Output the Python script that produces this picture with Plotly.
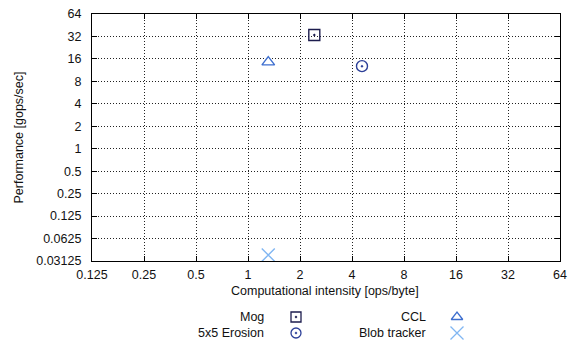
import plotly.graph_objects as go

# Benchmark kernels on a roofline-style log-log plot
names = ["Mog", "5x5 Erosion", "CCL", "Blob tracker"]
intensity = [2.42, 4.57, 1.31, 1.31]          # ops/byte
performance = [33.5, 12.8, 14.5, 0.0376]      # gops/sec
symbols = ["square-open-dot", "circle-open-dot", "triangle-up-open", "x-thin-open"]
colors = ["#1c1c4e", "#2c3f98", "#3e6fcf", "#80b6f2"]

x_ticks = [0.125, 0.25, 0.5, 1, 2, 4, 8, 16, 32, 64]
x_tick_labels = ["0.125", "0.25", "0.5", "1", "2", "4", "8", "16", "32", "64"]
y_ticks = [0.03125, 0.0625, 0.125, 0.25, 0.5, 1, 2, 4, 8, 16, 32, 64]
y_tick_labels = ["0.03125", "0.0625", "0.125", "0.25", "0.5", "1", "2", "4", "8", "16", "32", "64"]
x_title = "Computational intensity [ops/byte]"
y_title = "Performance [gops/sec]"

W, H = 577, 345
PLOT_L, PLOT_R, PLOT_T, PLOT_B = 92, 560, 14, 261
FONT = dict(family="Liberation Sans, Arial, sans-serif", size=12.5, color="#111111")

fig = go.Figure()

for n, xi, yi, s, c in zip(names, intensity, performance, symbols, colors):
    fig.add_trace(go.Scatter(
        x=[xi], y=[yi], mode="markers", name=n, showlegend=False,
        marker=dict(symbol=s, size=11 if "x" not in s else 13, color=c,
                    line=dict(color=c, width=1.4)),
        xaxis="x", yaxis="y"))

# Hand-built two-column key below the plot (text right-aligned, symbol to its right)
key_text_x = [266, 266, 428, 428]
key_sym_x = [296, 296, 457, 457]
key_y = [317, 333, 317, 333]
for n, s, c, tx, sx, ky in zip(names, symbols, colors, key_text_x, key_sym_x, key_y):
    fig.add_trace(go.Scatter(
        x=[sx], y=[ky], mode="markers", showlegend=False, hoverinfo="skip",
        marker=dict(symbol=s, size=10 if "x" not in s else 13, color=c,
                    line=dict(color=c, width=1.3)),
        xaxis="x2", yaxis="y2"))
    fig.add_annotation(x=tx / W, y=1 - ky / H, xref="paper", yref="paper",
                       text=n, showarrow=False, xanchor="right", yanchor="middle",
                       font=FONT)

# Axis titles
fig.add_annotation(x=325 / W, y=1 - 291 / H, xref="paper", yref="paper",
                   text=x_title, showarrow=False, xanchor="center", yanchor="middle",
                   font=FONT)
fig.add_annotation(x=18 / W, y=1 - 137.5 / H, xref="paper", yref="paper",
                   text=y_title, showarrow=False, xanchor="center", yanchor="middle",
                   textangle=-90, font=FONT)

axis_common = dict(
    type="log", showline=True, linecolor="#000000", linewidth=1.2, mirror="ticks",
    ticks="inside", ticklen=5, tickcolor="#000000", tickwidth=1,
    showgrid=True, gridcolor="#222222", griddash="1px,2px", gridwidth=1,
    zeroline=False, tickfont=FONT, automargin=False,
)

fig.update_layout(
    width=W, height=H,
    margin=dict(l=0, r=0, t=0, b=0, autoexpand=False),
    paper_bgcolor="white", plot_bgcolor="rgba(0,0,0,0)",
    font=FONT,
    xaxis=dict(axis_common, domain=[PLOT_L / W, PLOT_R / W],
               range=[-3 * 0.30103, 6 * 0.30103],
               tickvals=x_ticks, ticktext=x_tick_labels, ticklabelstandoff=2),
    yaxis=dict(axis_common, domain=[1 - PLOT_B / H, 1 - PLOT_T / H],
               range=[-5 * 0.30103, 6 * 0.30103],
               tickvals=y_ticks, ticktext=y_tick_labels, ticklabelstandoff=7),
    xaxis2=dict(domain=[0, 1], range=[0, W], visible=False, anchor="y2",
                fixedrange=True, automargin=False),
    yaxis2=dict(domain=[0, 1], range=[H, 0], visible=False, anchor="x2",
                fixedrange=True, automargin=False),
)

fig.write_html("out.html")
